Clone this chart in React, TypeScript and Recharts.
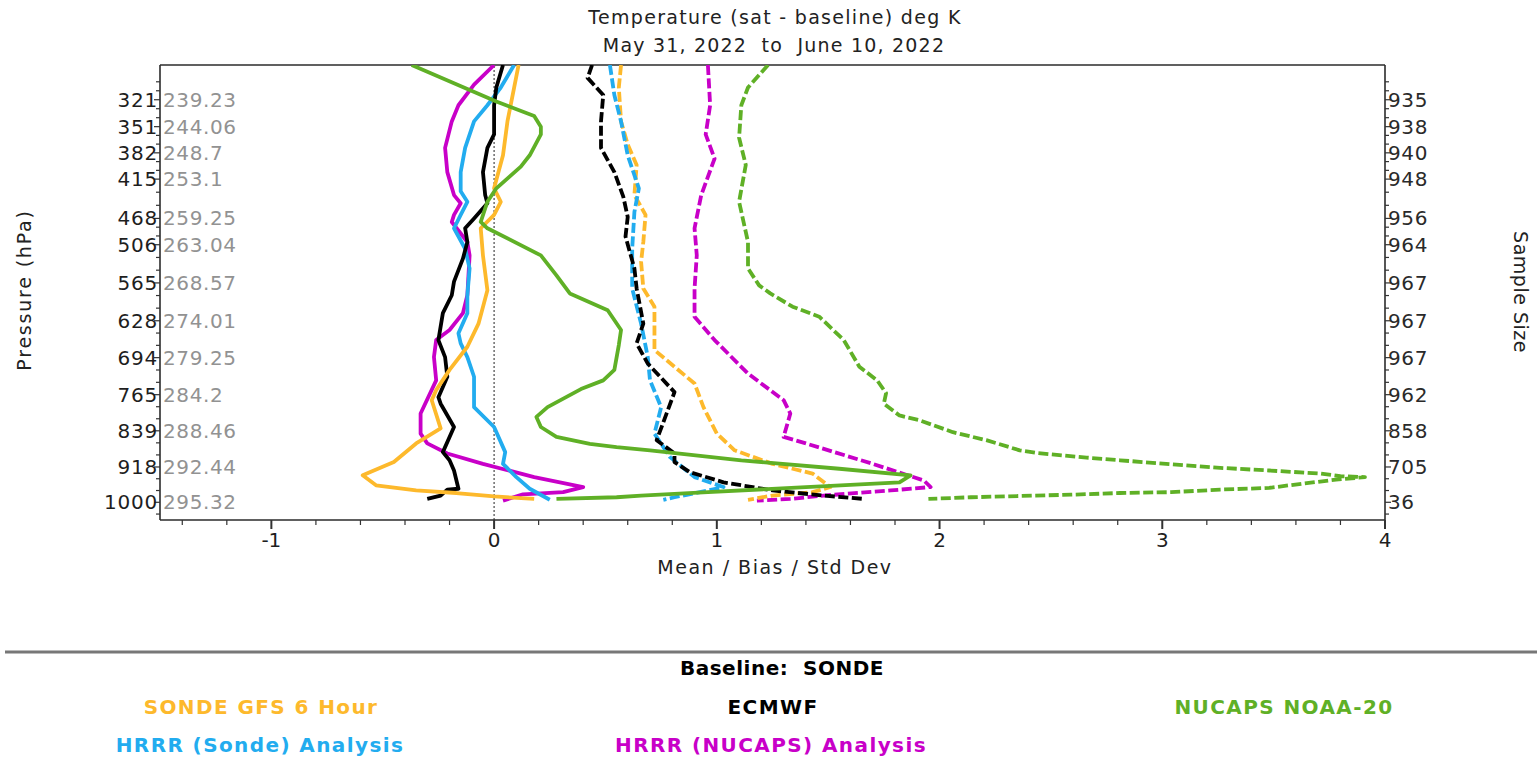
import React from 'react';
import { ScatterChart, Scatter, XAxis, YAxis, ReferenceLine } from 'recharts';

const FONT = '"DejaVu Sans", Verdana, sans-serif';

// ---- scale helpers (pressure axis drawn on a p^0.3 scale, top to bottom) ----
const P_EXP = 0.3;
const pw = (p: number) => Math.pow(p, P_EXP);
const P_TOP = 285;
const P_BOTTOM = 1043;

// ---- axis labels ----
const pressureLevels = [321, 351, 382, 415, 468, 506, 565, 628, 694, 765, 839, 918, 1000];
const baselineTemps = ['239.23', '244.06', '248.7', '253.1', '259.25', '263.04', '268.57', '274.01', '279.25', '284.2', '288.46', '292.44', '295.32'];
const sampleSizes = ['935', '938', '940', '948', '956', '964', '967', '967', '967', '962', '858', '705', '36'];
const xMajorTicks = [-1, 0, 1, 2, 3, 4];
const X_DOMAIN = [-1.5, 4];

// ---- series: [pressure hPa, value] ----
const gfsMean: [number, number][] = [
  [285, 0.11], [308, 0.09], [345, 0.06], [385, 0.04], [427, 0.0], [445, 0.03], [463, 0.0], [482, -0.06],
  [522, -0.05], [577, -0.03], [633, -0.07], [674, -0.12], [717, -0.2], [756, -0.26], [776, -0.28],
  [834, -0.24], [866, -0.35], [907, -0.45], [937, -0.59], [960, -0.53], [972, -0.35], [978, -0.17],
  [986, 0.0], [992, 0.18],
];
const ecmwfMean: [number, number][] = [
  [285, 0.04], [308, 0.01], [327, 0.0], [360, 0.0], [376, -0.03], [406, -0.05], [436, -0.04], [447, -0.03],
  [468, -0.09], [482, -0.13], [502, -0.12], [527, -0.14], [563, -0.18], [585, -0.19], [615, -0.23],
  [662, -0.25], [693, -0.22], [730, -0.21], [770, -0.25], [783, -0.24], [831, -0.18], [885, -0.23],
  [903, -0.2], [926, -0.18], [968, -0.16], [970, -0.21], [984, -0.24], [992, -0.3],
];
const hrrrNucapsMean: [number, number][] = [
  [285, 0.0], [305, -0.09], [327, -0.16], [345, -0.19], [376, -0.22], [406, -0.21], [436, -0.18], [447, -0.15],
  [463, -0.18], [473, -0.19], [502, -0.12], [522, -0.11], [585, -0.12], [615, -0.14], [644, -0.2],
  [662, -0.26], [693, -0.27], [737, -0.26], [803, -0.33], [845, -0.33], [866, -0.3], [888, -0.21],
  [911, -0.05], [941, 0.18], [964, 0.4], [976, 0.31], [981, 0.13], [996, 0.04],
];
const hrrrSondeMean: [number, number][] = [
  [285, 0.09], [308, 0.03], [327, -0.03], [345, -0.09], [376, -0.13], [406, -0.15], [431, -0.15], [445, -0.12],
  [463, -0.15], [482, -0.18], [512, -0.13], [542, -0.11], [585, -0.12], [615, -0.12], [650, -0.16],
  [668, -0.15], [693, -0.12], [730, -0.09], [790, -0.09], [831, 0.0], [885, 0.05], [911, 0.04],
  [941, 0.1], [968, 0.16], [994, 0.25],
];
const nucapsMean: [number, number][] = [
  [285, -0.37], [323, 0.01], [339, 0.18], [351, 0.21], [360, 0.21], [385, 0.16], [399, 0.12], [427, 0.01],
  [445, -0.03], [473, -0.06], [482, -0.03], [522, 0.21], [553, 0.28], [582, 0.34], [610, 0.51],
  [644, 0.57], [671, 0.56], [717, 0.54], [737, 0.49], [754, 0.39], [790, 0.24], [810, 0.19],
  [831, 0.21], [852, 0.28], [867, 0.43], [874, 0.55], [881, 0.7], [903, 1.11], [922, 1.55],
  [937, 1.87], [953, 1.82], [964, 1.4], [976, 0.96], [984, 0.66], [988, 0.55], [992, 0.28],
];
const ecmwfStd: [number, number][] = [
  [285, 0.44], [298, 0.42], [316, 0.49], [345, 0.48], [376, 0.48], [406, 0.54], [438, 0.58], [466, 0.6],
  [494, 0.59], [542, 0.63], [574, 0.64], [633, 0.67], [668, 0.64], [705, 0.69], [760, 0.81],
  [859, 0.73], [888, 0.81], [907, 0.81], [930, 0.88], [953, 1.03], [972, 1.25], [984, 1.48], [992, 1.66],
];
const hrrrSondeStd: [number, number][] = [
  [285, 0.52], [316, 0.54], [345, 0.57], [385, 0.6], [427, 0.65], [459, 0.63], [512, 0.62], [574, 0.62],
  [633, 0.66], [693, 0.69], [737, 0.7], [790, 0.75], [845, 0.72], [896, 0.79], [941, 0.9],
  [964, 1.03], [972, 0.96], [988, 0.81], [994, 0.76],
];
const gfsStd: [number, number][] = [
  [285, 0.57], [308, 0.56], [345, 0.57], [372, 0.6], [397, 0.64], [436, 0.63], [463, 0.68], [502, 0.67],
  [532, 0.66], [574, 0.67], [604, 0.72], [680, 0.72], [711, 0.81], [743, 0.9], [790, 0.94],
  [845, 1.0], [881, 1.08], [911, 1.25], [933, 1.43], [964, 1.51], [976, 1.43], [984, 1.25], [994, 1.14],
];
const hrrrNucapsStd: [number, number][] = [
  [285, 0.96], [327, 0.97], [360, 0.95], [389, 0.99], [436, 0.93], [482, 0.9], [522, 0.91], [574, 0.9],
  [621, 0.9], [662, 0.99], [724, 1.14], [776, 1.3], [803, 1.33], [852, 1.3], [866, 1.4],
  [911, 1.7], [949, 1.93], [964, 1.96], [972, 1.78], [984, 1.48], [992, 1.33], [996, 1.18],
];
const nucapsStd: [number, number][] = [
  [285, 1.23], [308, 1.14], [327, 1.11], [364, 1.1], [397, 1.13], [445, 1.1], [502, 1.14], [542, 1.14],
  [569, 1.19], [582, 1.24], [604, 1.34], [621, 1.46], [662, 1.57], [711, 1.64], [737, 1.72],
  [762, 1.76], [783, 1.75], [807, 1.82], [817, 1.91], [842, 2.06], [859, 2.21], [881, 2.36],
  [887, 2.44], [897, 2.66], [903, 2.81], [912, 3.04], [920, 3.26], [926, 3.48], [933, 3.71],
  [939, 3.8], [941, 3.91], [947, 3.78], [956, 3.63], [966, 3.48], [970, 3.26], [976, 3.04],
  [978, 2.81], [982, 2.59], [985, 2.36], [988, 2.14], [992, 1.95],
];

// ---- colours ----
const ORANGE = '#FDB92C';
const BLACK = '#000000';
const GREEN = '#5FB026';
const BLUE = '#22ACEF';
const MAGENTA = '#C800C8';

const series = [
  { key: 'nucapsStd', data: nucapsStd, color: GREEN, dashed: true },
  { key: 'hrrrNucapsStd', data: hrrrNucapsStd, color: MAGENTA, dashed: true },
  { key: 'gfsStd', data: gfsStd, color: ORANGE, dashed: true },
  { key: 'hrrrSondeStd', data: hrrrSondeStd, color: BLUE, dashed: true },
  { key: 'ecmwfStd', data: ecmwfStd, color: BLACK, dashed: true },
  { key: 'hrrrNucapsMean', data: hrrrNucapsMean, color: MAGENTA, dashed: false },
  { key: 'hrrrSondeMean', data: hrrrSondeMean, color: BLUE, dashed: false },
  { key: 'ecmwfMean', data: ecmwfMean, color: BLACK, dashed: false },
  { key: 'gfsMean', data: gfsMean, color: ORANGE, dashed: false },
  { key: 'nucapsMean', data: nucapsMean, color: GREEN, dashed: false },
];

const toPoints = (arr: [number, number][]) => arr.map(([p, v]) => ({ x: v, y: pw(p) }));

// ---- tick lists ----
const majorY = pressureLevels.map(pw);
const minorY: number[] = [];
{
  const d0 = majorY[1] - majorY[0];
  minorY.push(majorY[0] - d0 / 3, majorY[0] - (2 * d0) / 3);
  for (let i = 0; i < majorY.length - 1; i++) {
    const a = majorY[i];
    const b = majorY[i + 1];
    minorY.push(a + (b - a) / 3, a + (2 * (b - a)) / 3);
  }
  const n = majorY.length;
  minorY.push(majorY[n - 1] + (majorY[n - 1] - majorY[n - 2]) / 3);
}
const yTicks = [...majorY, ...minorY].sort((a, b) => a - b);

const xTicks: number[] = [];
for (let i = -7; i <= 20; i++) xTicks.push(Math.round(i * 2) / 10);

const majorIndex = (v: number) => majorY.findIndex((m) => Math.abs(m - v) < 1e-9);

const TICK_FS = 20;

const LeftTick = (props: any) => {
  const { x, y, payload } = props;
  const idx = majorIndex(payload.value);
  const major = idx >= 0;
  return (
    <g>
      <line x1={x} x2={x - (major ? 6 : 4)} y1={y} y2={y} stroke="#333" strokeWidth={1.2} />
      {major && (
        <text x={x - 2} y={y + 7} textAnchor="end" fontSize={TICK_FS} letterSpacing={0.8} fontFamily={FONT} fill="#1e1e1e">
          {pressureLevels[idx]}
        </text>
      )}
      {major && (
        <text x={x + 3} y={y + 7} textAnchor="start" fontSize={TICK_FS} letterSpacing={0.6} fontFamily={FONT} fill="#929292">
          {baselineTemps[idx]}
        </text>
      )}
    </g>
  );
};

const RightTick = (props: any) => {
  const { x, y, payload } = props;
  const idx = majorIndex(payload.value);
  const major = idx >= 0;
  return (
    <g>
      <line x1={x} x2={x + (major ? 6 : 4)} y1={y} y2={y} stroke="#333" strokeWidth={1.2} />
      {major && (
        <text x={x + 3} y={y + 7} textAnchor="start" fontSize={TICK_FS} letterSpacing={0.6} fontFamily={FONT} fill="#2a2a2a">
          {sampleSizes[idx]}
        </text>
      )}
    </g>
  );
};

const BottomTick = (props: any) => {
  const { x, y, payload } = props;
  const v = payload.value as number;
  const major = xMajorTicks.some((m) => Math.abs(m - v) < 1e-9);
  return (
    <g>
      <line x1={x} x2={x} y1={y} y2={y + (major ? 9 : 5)} stroke="#333" strokeWidth={major ? 2 : 1.2} />
      {major && (
        <text x={x} y={y + 27} textAnchor="middle" fontSize={TICK_FS} fontFamily={FONT} fill="#1e1e1e">
          {String(Math.round(v))}
        </text>
      )}
    </g>
  );
};

const NoShape = () => <g />;

const legendRow1 = [
  { label: 'SONDE GFS 6 Hour', color: ORANGE, x: 261 },
  { label: 'ECMWF', color: BLACK, x: 773 },
  { label: 'NUCAPS NOAA-20', color: GREEN, x: 1284 },
];
const legendRow2 = [
  { label: 'HRRR (Sonde) Analysis', color: BLUE, x: 260 },
  { label: 'HRRR (NUCAPS) Analysis', color: MAGENTA, x: 771 },
];

export default function App() {
  const axisStroke = { stroke: '#2b2b2b', strokeWidth: 1.6 };
  return (
    <div style={{ position: 'absolute', left: 0, top: 0, width: 1537, height: 759, background: '#fff' }}>
      <ScatterChart width={1537} height={759} margin={{ top: 65, right: 0, bottom: 179, left: 0 }}>
        <XAxis
          type="number"
          dataKey="x"
          domain={X_DOMAIN}
          allowDataOverflow
          ticks={xTicks}
          interval={0}
          tickSize={0}
          tickMargin={0}
          tickLine={false}
          tick={<BottomTick />}
          axisLine={axisStroke}
          height={60}
        />
        <YAxis
          yAxisId="left"
          type="number"
          dataKey="y"
          domain={[pw(P_TOP), pw(P_BOTTOM)]}
          reversed
          allowDataOverflow
          ticks={yTicks}
          interval={0}
          tickSize={0}
          tickMargin={0}
          tickLine={false}
          tick={<LeftTick />}
          axisLine={axisStroke}
          width={160}
        />
        <YAxis
          yAxisId="right"
          orientation="right"
          type="number"
          dataKey="y"
          domain={[pw(P_TOP), pw(P_BOTTOM)]}
          reversed
          allowDataOverflow
          ticks={yTicks}
          interval={0}
          tickSize={0}
          tickMargin={0}
          tickLine={false}
          tick={<RightTick />}
          axisLine={axisStroke}
          width={152}
        />
        <ReferenceLine yAxisId="left" y={pw(P_TOP)} stroke="#2b2b2b" strokeWidth={1.6} />
        <ReferenceLine yAxisId="left" x={0} stroke="#222" strokeWidth={1} strokeDasharray="2 2" />
        <Scatter
          yAxisId="right"
          data={pressureLevels.map((p) => ({ x: 0, y: pw(p) }))}
          shape={NoShape}
          isAnimationActive={false}
        />
        {series.map((s) => (
          <Scatter
            key={s.key}
            yAxisId="left"
            data={toPoints(s.data)}
            fill={s.color}
            shape={NoShape}
            line={{
              stroke: s.color,
              strokeWidth: 3.8,
              strokeDasharray: s.dashed ? '10 3.5' : undefined,
              strokeLinejoin: 'round',
            }}
            lineType="joint"
            isAnimationActive={false}
          />
        ))}
      </ScatterChart>
      <svg
        width={1537}
        height={759}
        style={{ position: 'absolute', left: 0, top: 0, pointerEvents: 'none' }}
        fontFamily={FONT}
      >
        <text x={775} y={24} textAnchor="middle" fontSize={19} letterSpacing={1.3} fill="#222">
          Temperature (sat - baseline) deg K
        </text>
        <text x={774} y={52} textAnchor="middle" fontSize={19} letterSpacing={1.2} fill="#222" style={{ whiteSpace: 'pre' }}>
          {'May 31, 2022  to  June 10, 2022'}
        </text>
        <text x={775} y={574} textAnchor="middle" fontSize={19} letterSpacing={1.5} fill="#222">
          Mean / Bias / Std Dev
        </text>
        <text x={0} y={0} textAnchor="middle" fontSize={19} letterSpacing={1.8} fill="#222" transform="translate(31,290) rotate(-90)">
          Pressure (hPa)
        </text>
        <text x={0} y={0} textAnchor="middle" fontSize={19} letterSpacing={0.5} fill="#222" transform="translate(1514,292) rotate(90)">
          Sample Size
        </text>
        <line x1={5} x2={1537} y1={652} y2={652} stroke="#777" strokeWidth={3} />
        <text x={782} y={675} textAnchor="middle" fontSize={20} letterSpacing={0.5} fontWeight="bold" fill="#000" style={{ whiteSpace: 'pre' }}>
          {'Baseline:  SONDE'}
        </text>
        {legendRow1.map((l) => (
          <text key={l.label} x={l.x} y={714} textAnchor="middle" fontSize={20} letterSpacing={1.4} fontWeight="bold" fill={l.color}>
            {l.label}
          </text>
        ))}
        {legendRow2.map((l) => (
          <text key={l.label} x={l.x} y={752} textAnchor="middle" fontSize={20} letterSpacing={1.4} fontWeight="bold" fill={l.color}>
            {l.label}
          </text>
        ))}
      </svg>
    </div>
  );
}
